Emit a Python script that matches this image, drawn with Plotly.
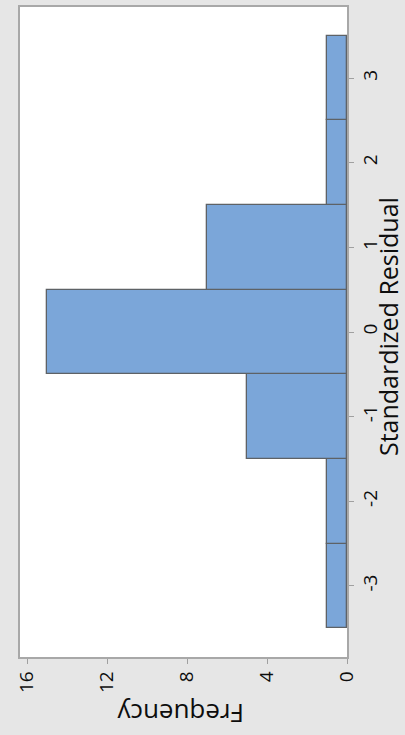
import plotly.graph_objects as go

# Histogram of standardized residuals (bin centres and counts), drawn sideways
bin_centers = [-3, -2, -1, 0, 1, 2, 3]
frequencies = [1, 1, 5, 15, 7, 1, 1]
freq_ticks = [0, 4, 8, 12, 16]

W, H = 405, 735
L, R, T, B = 20, 58, 5, 78
pw, ph = W - L - R, H - T - B

FONT = "Open Sans, Noto Sans, sans-serif"
INK = "#0d0d0d"

fig = go.Figure(
    go.Bar(
        y=bin_centers,
        x=frequencies,
        orientation="h",
        width=1,
        marker=dict(color="#7ba6d9", line=dict(color="#5e6266", width=1.3)),
        showlegend=False,
    )
)

tick_font = dict(family=FONT, size=19, color=INK)

axis_style = dict(
    tickangle=-90,
    ticks="outside",
    ticklen=5,
    tickcolor="#a0a0a0",
    showgrid=False,
    zeroline=False,
    showline=True,
    mirror=True,
    linecolor="#a8a8a8",
    linewidth=1.5,
    tickfont=tick_font,
)

fig.update_layout(
    width=W,
    height=H,
    margin=dict(l=L, r=R, t=T, b=B, pad=0),
    paper_bgcolor="#e6e6e6",
    plot_bgcolor="#ffffff",
    bargap=0,
    xaxis=dict(
        range=[16.35, 0],
        tickvals=freq_ticks,
        ticktext=[str(v) for v in freq_ticks],
        **axis_style,
    ),
    yaxis=dict(
        side="right",
        range=[-3.84, 3.84],
        tickvals=bin_centers,
        ticktext=[str(v) for v in bin_centers],
        **axis_style,
    ),
    annotations=[
        dict(
            text="Standardized Residual",
            xref="paper", yref="paper",
            x=(388 - L) / pw, y=(H - B - 326) / ph,
            xanchor="center", yanchor="middle",
            textangle=-90,
            showarrow=False,
            font=dict(family=FONT, size=25, color=INK),
        ),
        dict(
            text="Frequency",
            xref="paper", yref="paper",
            x=(181 - L) / pw, y=(H - B - 714) / ph,
            xanchor="center", yanchor="middle",
            textangle=180,
            showarrow=False,
            font=dict(family=FONT, size=26, color=INK),
        ),
    ],
)

fig.write_html("out.html")
